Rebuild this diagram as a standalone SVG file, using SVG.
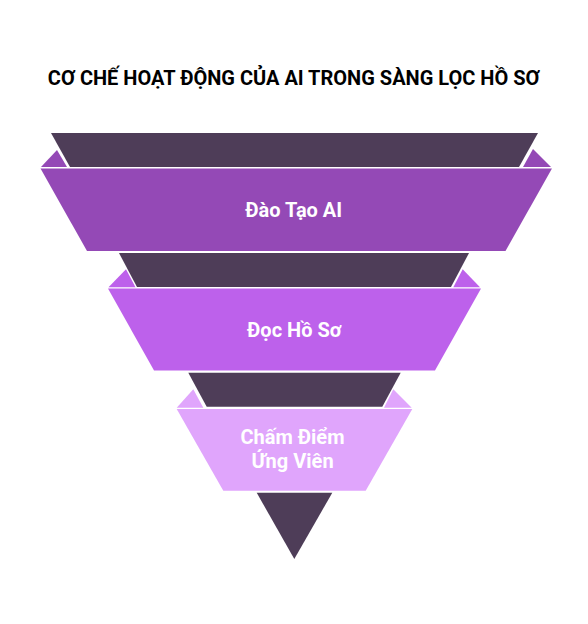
<svg xmlns="http://www.w3.org/2000/svg" width="588" height="624" viewBox="0 0 588 624">
<style>
.dark{fill:#4E3D58}
.p1{fill:#9449B6}
.p2{fill:#BD61EB}
.p3{fill:#E0A5FC}
.lbl{font-family:Roboto,"Liberation Sans",sans-serif;font-weight:bold;font-size:20px;fill:#FFFFFF;text-anchor:middle}
.title{font-family:Roboto,"Liberation Sans",sans-serif;font-weight:bold;font-size:20px;fill:#000000;text-anchor:middle}
</style>
<rect width="588" height="624" fill="#FFFFFF"/>
<text class="title" x="293.7" y="85">CƠ CHẾ HOẠT ĐỘNG CỦA AI TRONG SÀNG LỌC HỒ SƠ</text>
<g id="tier1">
<polygon class="dark" points="51,133 538,133 519,167 70,167"/>
<polygon class="p1" points="41,167 57,150 67,167"/>
<polygon class="p1" points="523,167 533,149 551,167"/>
<polygon class="p1" points="40.5,168.5 552,168.5 505.5,251 87,251"/>
<text class="lbl" x="293.7" y="217">Đào Tạo AI</text>
</g>
<g id="tier2">
<polygon class="dark" points="119,253 469,253 451,287 137,287"/>
<polygon class="p2" points="108.5,287.3 126,269.3 135.5,287.3"/>
<polygon class="p2" points="453.3,287.3 462.7,269.3 480,287.3"/>
<polygon class="p2" points="108,288.5 481,288.5 435,370.5 154,370.5"/>
<text class="lbl" x="294.2" y="337">Đọc Hồ Sơ</text>
</g>
<g id="tier3">
<polygon class="dark" points="188.3,372.7 400.7,372.7 382.3,406.7 206.7,406.7"/>
<polygon class="p3" points="176.7,407.7 193.3,389.3 203.3,407.7"/>
<polygon class="p3" points="384,407.7 393.3,389.3 411.7,407.7"/>
<polygon class="p3" points="176.7,409 412.3,409 365.7,490.7 223.3,490.7"/>
<text class="lbl" x="292.5" y="444.3">Chấm Điểm</text>
<text class="lbl" x="292.5" y="468.3">Ứng Viên</text>
</g>
<g id="tip">
<polygon class="dark" points="256.7,492.7 332.3,492.7 294.3,559"/>
</g>
<g id="connectors"></g>
</svg>
